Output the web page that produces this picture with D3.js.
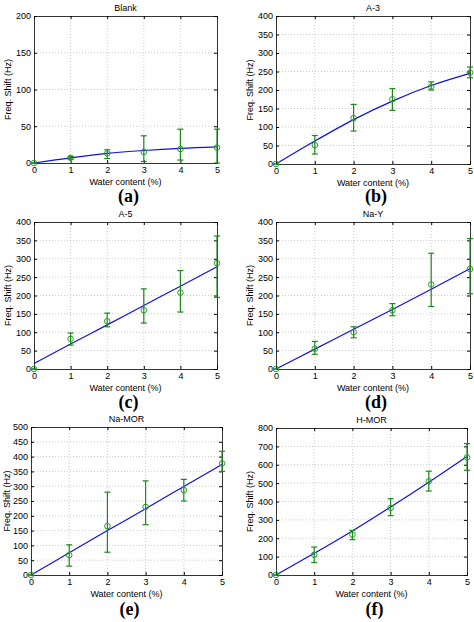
<!DOCTYPE html>
<meta charset="utf-8">
<style>
body { margin:0; background:#fff; }
</style>
<body>
<div id="chart"></div>
<script src="https://d3js.org/d3.v7.min.js"></script>
<script>

var xs = [0, 1, 2, 3, 4, 5];
var titles = ["Blank", "A-3", "A-5", "Na-Y", "Na-MOR", "H-MOR"];
var letters = ["(a)", "(b)", "(c)", "(d)", "(e)", "(f)"];
var yMax = [200, 400, 400, 400, 500, 800];
var yStep = [50, 50, 50, 50, 50, 100];

var means = [
  [0, 7, 13, 15, 19, 21],
  [0, 51, 124, 175, 209, 247],
  [0, 82, 130, 160, 208, 288],
  [0, 55, 100, 160, 230, 272],
  [0, 67, 165, 230, 287, 377],
  [0, 110, 220, 365, 510, 640]
];
var errLow = [
  [0, 5, 6, 2, 4, 0],
  [0, 27, 89, 145, 200, 233],
  [0, 65, 115, 125, 155, 195],
  [0, 40, 85, 145, 170, 205],
  [0, 30, 77, 170, 250, 350],
  [0, 68, 192, 323, 457, 570]
];
var errHigh = [
  [0, 9, 18, 37, 46, 46],
  [0, 77, 161, 204, 222, 262],
  [0, 98, 152, 218, 268, 362],
  [0, 75, 115, 178, 315, 355],
  [0, 102, 280, 318, 323, 418],
  [0, 152, 243, 415, 565, 715]
];
var fits = [
  [0, 7, 13, 17, 20, 22],
  [0, 62, 120, 170, 212, 245],
  [15, 68, 120, 173, 225, 278],
  [0, 54, 108, 162, 217, 273],
  [0, 75, 150, 224, 299, 373],
  [0, 118, 240, 370, 505, 645]
];

// plot boxes [left, top, right, bottom]
var boxes = [
  [34, 16, 217, 163], [276, 16, 470, 164],
  [34, 222, 217, 369], [276, 222, 470, 369],
  [31, 427, 222, 575], [276, 428, 467, 575]
];
var letterY = [202, 202, 408, 408, 615, 615];
var sans = "'Liberation Sans', Arial, sans-serif";

var svg = d3.select("#chart").append("svg")
  .attr("width", 474).attr("height", 622);

titles.forEach(function(t, i) {
  var b = boxes[i];
  var x = d3.scaleLinear().domain([0, 5]).range([b[0], b[2]]);
  var y = d3.scaleLinear().domain([0, yMax[i]]).range([b[3], b[1]]);
  var yt = d3.range(0, yMax[i] + 1, yStep[i]);
  var g = svg.append("g");

  g.selectAll(".gx").data(xs.slice(1, 5)).enter().append("line")
    .attr("x1", x).attr("x2", x).attr("y1", b[1]).attr("y2", b[3])
    .attr("stroke", "#aaa").attr("stroke-width", 0.6).attr("stroke-dasharray", "1,2");
  g.selectAll(".gy").data(yt.slice(1, -1)).enter().append("line")
    .attr("y1", y).attr("y2", y).attr("x1", b[0]).attr("x2", b[2])
    .attr("stroke", "#aaa").attr("stroke-width", 0.6).attr("stroke-dasharray", "1,2");

  g.append("g").attr("transform", "translate(0," + b[3] + ")")
    .call(d3.axisBottom(x).tickValues(xs).tickSize(-3).tickPadding(4).tickFormat(d3.format("d")));
  g.append("g").attr("transform", "translate(" + b[0] + ",0)")
    .call(d3.axisLeft(y).tickValues(yt).tickSize(-3).tickPadding(3));
  g.append("g").attr("transform", "translate(0," + b[1] + ")")
    .call(d3.axisTop(x).tickValues(xs).tickSize(-3).tickFormat(""));
  g.append("g").attr("transform", "translate(" + b[2] + ",0)")
    .call(d3.axisRight(y).tickValues(yt).tickSize(-3).tickFormat(""));
  g.selectAll(".domain").attr("stroke", "#000").attr("stroke-width", 0.8);
  g.selectAll(".tick text").attr("font-size", 9).attr("fill", "#000")
    .style("font-family", sans);

  var line = d3.line().x(function(d, k) { return x(xs[k]); })
    .y(function(d) { return y(d); }).curve(d3.curveMonotoneX);
  g.append("path").attr("d", line(fits[i])).attr("fill", "none")
    .attr("stroke", "#1010e0").attr("stroke-width", 1.2);

  xs.forEach(function(xv, k) {
    var cx = x(xv);
    g.append("line").attr("x1", cx).attr("x2", cx)
      .attr("y1", y(errLow[i][k])).attr("y2", y(errHigh[i][k]))
      .attr("stroke", "#1a8a1a").attr("stroke-width", 1.2);
    [errLow[i][k], errHigh[i][k]].forEach(function(v) {
      g.append("line").attr("x1", cx - 3).attr("x2", cx + 3)
        .attr("y1", y(v)).attr("y2", y(v))
        .attr("stroke", "#1a8a1a").attr("stroke-width", 1.2);
    });
    g.append("circle").attr("cx", cx).attr("cy", y(means[i][k])).attr("r", 2.8)
      .attr("fill", "none").attr("stroke", "#2a9a2a").attr("stroke-width", 1);
  });

  g.append("text").attr("x", (b[0] + b[2]) / 2).attr("y", b[1] - 5)
    .attr("text-anchor", "middle").attr("font-size", 9).style("font-family", sans).text(t);
  g.append("text").attr("x", (b[0] + b[2]) / 2).attr("y", b[3] + 22)
    .attr("text-anchor", "middle").attr("font-size", 9).style("font-family", sans).text("Water content (%)");
  g.append("text")
    .attr("transform", "translate(" + Math.max(b[0] - 23, 10) + "," + ((b[1] + b[3]) / 2) + ") rotate(-90)")
    .attr("text-anchor", "middle").attr("font-size", 9).style("font-family", sans).text("Freq. Shift (Hz)");
  g.append("text").attr("x", (b[0] + b[2]) / 2 + 3).attr("y", letterY[i])
    .attr("text-anchor", "middle").attr("font-size", 18).attr("font-weight", "bold")
    .style("font-family", "'Liberation Serif', 'Times New Roman', serif").text(letters[i]);
});

</script>
</body>
